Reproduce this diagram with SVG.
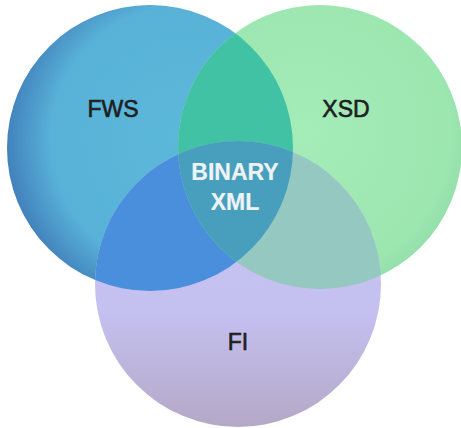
<svg xmlns="http://www.w3.org/2000/svg" width="461" height="428" viewBox="0 0 461 428">
<style>
.lbl{font-family:"Liberation Sans",Arial,sans-serif;font-size:23px;text-anchor:middle;fill:#1e1e1e;stroke:#1e1e1e;stroke-width:0.6}
.wht{fill:#eef3f5;stroke:#eef3f5;font-weight:bold;stroke-width:0.2}
</style>
<defs>
<radialGradient id="gFws" cx="0.62" cy="0.47" r="0.62">
<stop offset="0" stop-color="#5cb8da"/>
<stop offset="0.75" stop-color="#58b2d8"/>
<stop offset="1" stop-color="#4282bc"/>
</radialGradient>
<radialGradient id="gXsd" cx="0.45" cy="0.45" r="0.6">
<stop offset="0" stop-color="#a4ecb8"/>
<stop offset="0.85" stop-color="#9ce6b0"/>
<stop offset="1" stop-color="#90dca8"/>
</radialGradient>
<linearGradient id="gFi" x1="0" y1="0" x2="0" y2="1">
<stop offset="0" stop-color="#c8c8f4"/>
<stop offset="0.6" stop-color="#c4c0f0"/>
<stop offset="1" stop-color="#b4a8c6"/>
</linearGradient>
<clipPath id="cFws"><circle cx="150" cy="148" r="143"/></clipPath>
<clipPath id="cXsd"><circle cx="320" cy="147" r="142"/></clipPath>
<clipPath id="cFi"><circle cx="238" cy="284" r="143"/></clipPath>
</defs>
<rect width="461" height="428" fill="#ffffff"/>
<g id="fws"><circle cx="150" cy="148" r="143" fill="url(#gFws)"/></g>
<g id="xsd"><circle cx="320" cy="147" r="142" fill="url(#gXsd)"/></g>
<g id="fi"><circle cx="238" cy="284" r="143" fill="url(#gFi)"/></g>
<g id="overlaps">
<g clip-path="url(#cFws)"><circle cx="320" cy="147" r="142" fill="#42c2a4"/></g>
<g clip-path="url(#cFws)"><circle cx="238" cy="284" r="143" fill="#4a8fdc"/></g>
<g clip-path="url(#cXsd)"><circle cx="238" cy="284" r="143" fill="#94c8c0"/></g>
<g clip-path="url(#cFws)"><g clip-path="url(#cXsd)"><circle cx="238" cy="284" r="143" fill="#479fbd"/></g></g>
</g>
<g id="labels">
<text class="lbl" x="113" y="117">FWS</text>
<text class="lbl" x="346" y="117">XSD</text>
<text class="lbl" x="238" y="350">FI</text>
<text class="lbl wht" x="235" y="180">BINARY</text>
<text class="lbl wht" x="235" y="210">XML</text>
</g>
</svg>
